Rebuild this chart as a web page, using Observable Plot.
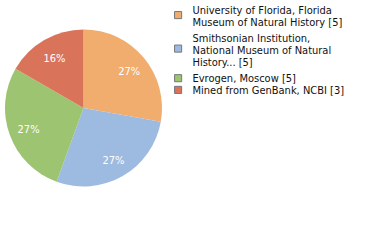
<!DOCTYPE html>
<html>
<head>
<meta charset="utf-8">
<script src="https://cdn.jsdelivr.net/npm/d3@7"></script>
<script src="https://cdn.jsdelivr.net/npm/@observablehq/plot@0.6"></script>
<style>
  html, body { margin: 0; padding: 0; background: #fff; }
  #chart svg { display: block; }
</style>
</head>
<body>
<div id="chart"></div>
<script>
// Data
const categories = [
  "University of Florida, Florida Museum of Natural History",
  "Smithsonian Institution, National Museum of Natural History",
  "Evrogen, Moscow",
  "Mined from GenBank, NCBI"
];
const legendLabels = [
  "University of Florida, Florida\nMuseum of Natural History [5]",
  "Smithsonian Institution,\nNational Museum of Natural\nHistory... [5]",
  "Evrogen, Moscow [5]",
  "Mined from GenBank, NCBI [3]"
];
const counts = [5, 5, 5, 3];
const colors = ["#f0ad6e", "#9dbbe0", "#9dc470", "#d9745a"];

// Layout
const W = 380, H = 240;
const cx = 83.5, cy = 108, R = 78.5, labelR = 59;
const FONT = "'DejaVu Sans Condensed', 'DejaVu Sans', sans-serif";
const total = d3.sum(counts);
const data = categories.map((c, i) => ({name: c, count: counts[i], legend: legendLabels[i]}));
const arcs = d3.pie().sort(null).value(d => d.count)(data);
const labels = arcs.map(a => {
  const mid = (a.startAngle + a.endAngle) / 2;
  return {
    name: a.data.name,
    x: cx + Math.sin(mid) * labelR,
    y: cy - Math.cos(mid) * labelR,
    text: Math.floor(a.data.count / total * 100) + "%"
  };
});

// legend layout
const lineH = 11.7;
let legendTop = 5;
const legendRows = data.map((d) => {
  const lines = d.legend.split("\n").length;
  const row = {name: d.name, legend: d.legend, ty: legendTop, sy: legendTop + lines * 5.2 - 0.8};
  legendTop += lines * lineH + (lines > 1 ? 4.9 : 0);
  return row;
});

function pieMark(index, scales) {
  const g = d3.create("svg:g").attr("transform", `translate(${cx},${cy})`);
  const arcGen = d3.arc().innerRadius(0).outerRadius(R);
  g.selectAll("path").data(arcs).join("path")
    .attr("d", arcGen)
    .attr("fill", d => scales.color(d.data.name));
  return g.node();
}

const chart = Plot.plot({
  width: W,
  height: H,
  margin: 0,
  style: {fontFamily: FONT, background: "#fff"},
  x: {type: "identity", axis: null},
  y: {type: "identity", axis: null},
  color: {domain: categories, range: colors},
  marks: [
    pieMark,
    Plot.text(labels, {x: "x", y: "y", text: "text", fill: "white", fontSize: 11, dy: 1, textAnchor: "middle", style: "letter-spacing:0.6px"}),
    Plot.dot(legendRows, {x: () => 177.6, y: "sy", symbol: "square", r: 4, fill: "name", stroke: "#777", strokeWidth: 1}),
    Plot.text(legendRows, {x: () => 192, y: "ty", text: "legend", textAnchor: "start", lineAnchor: "top", fontSize: 11, lineHeight: lineH / 11, fill: "#111"})
  ]
});
document.getElementById("chart").appendChild(chart);
</script>
</body>
</html>
